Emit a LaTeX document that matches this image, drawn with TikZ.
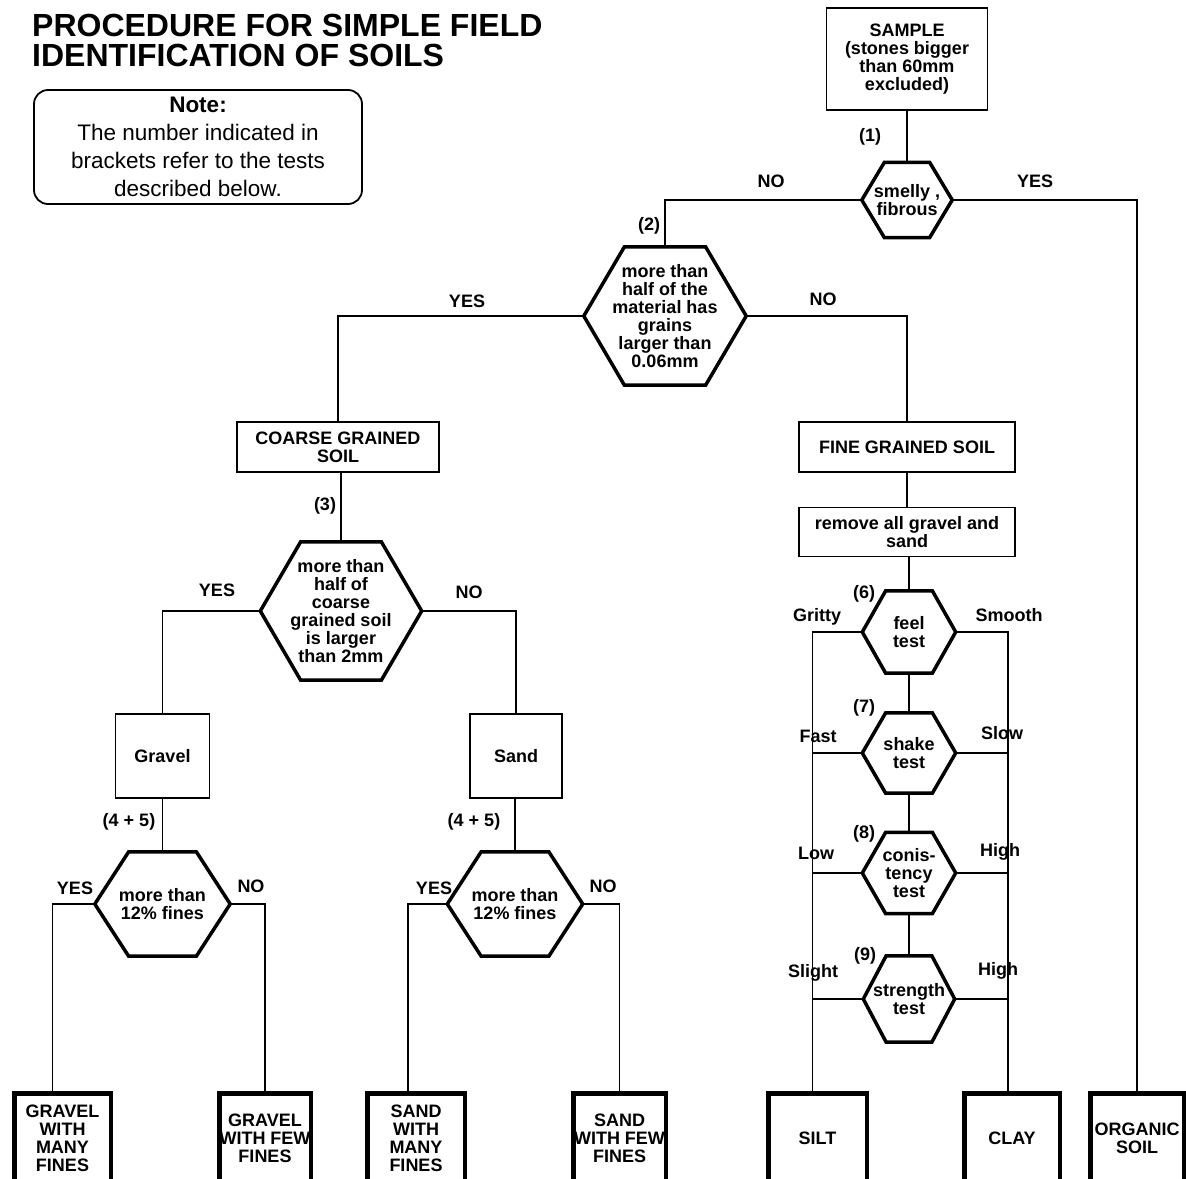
\documentclass[tikz,border=0pt]{standalone}
\usepackage{fontspec}
\setmainfont{Liberation Sans}
\usetikzlibrary{calc, positioning}
\newcommand{\boxfont}{\fontsize{18}{18}\selectfont\bfseries}
\tikzset{box/.style={draw, line width=1.8pt, align=center, inner sep=0pt, font=\boxfont},
         endbox/.style={box, line width=4.5pt, minimum height=90pt},
         test/.style={align=center, inner sep=0pt, font=\boxfont},
         lbl/.style={inner sep=0pt, font=\boxfont},
         link/.style={line width=1.8pt},
         hexline/.style={line width=3.5pt, line join=miter}}

\begin{document}
\begin{tikzpicture}[x=1pt, y=-1pt]
\useasboundingbox (0,0) rectangle (1186,1178);
% heading and note
\node[anchor=north west, align=left, inner sep=0pt,
      font=\fontsize{32}{30}\selectfont\bfseries] (title) at (32,14)
      {PROCEDURE FOR SIMPLE FIELD\\IDENTIFICATION OF SOILS};
\node[draw, rounded corners=14pt, line width=1.8pt, minimum width=328pt,
      minimum height=114pt, align=center, inner sep=0pt,
      font=\fontsize{22.5}{28}\selectfont] (note) at (198,147)
      {\textbf{Note:}\\The number indicated in\\brackets refer to the tests\\described below.};

% boxes
\node[box, minimum width=161pt, minimum height=102pt] (sample) at (907,59)
      {SAMPLE\\(stones bigger\\than 60mm\\excluded)};
\node[box, minimum width=202pt, minimum height=50pt] (coarse) at (338,447)
      {COARSE GRAINED\\SOIL};
\node[box, minimum width=216pt, minimum height=50pt] (fine) at (907,447)
      {FINE GRAINED SOIL};
\node[box, minimum width=216pt, minimum height=49pt] (remove) at (907,532)
      {remove all gravel and\\sand};
\node[box, minimum width=94pt, minimum height=84pt] (gravel) at (162.5,756) {Gravel};
\node[box, minimum width=92pt, minimum height=84pt] (sand) at (516,756) {Sand};

% tests
\node[test, minimum width=90pt, minimum height=75pt] (smelly) at (907,200)
      {smelly ,\\fibrous};
\node[test, minimum width=162pt, minimum height=138pt] (grains) at (665,316)
      {more than\\half of the\\material has\\grains\\larger than\\0.06mm};
\node[test, minimum width=161pt, minimum height=138pt] (half) at (341,611)
      {more than\\half of\\coarse\\grained soil\\is larger\\than 2mm};
\node[test, minimum width=135pt, minimum height=104pt] (gfines) at (162.5,904)
      {more than\\12\% fines};
\node[test, minimum width=135pt, minimum height=104pt] (sfines) at (515,904)
      {more than\\12\% fines};
\node[test, minimum width=93pt, minimum height=82pt] (feel) at (909,632)
      {feel\\test};
\node[test, minimum width=93pt, minimum height=80pt] (shake) at (909,753)
      {shake\\test};
\node[test, minimum width=93pt, minimum height=81pt] (consist) at (909,873)
      {conis-\\tency\\test};
\node[test, minimum width=91pt, minimum height=86pt] (strength) at (909,999)
      {strength\\test};
\foreach \h in {smelly, grains, half, gfines, sfines, feel, shake, consist, strength}
  \draw[hexline] (\h.west) -- ($(\h.north west)!.25!(\h.north east)$)
     -- ($(\h.north west)!.75!(\h.north east)$) -- (\h.east)
     -- ($(\h.south west)!.75!(\h.south east)$)
     -- ($(\h.south west)!.25!(\h.south east)$) -- cycle;

% results (they run off the bottom edge)
\node[endbox, minimum width=96.5pt] (gmany) at (62.5,1138.5) {GRAVEL\\WITH\\MANY\\FINES};
\node[endbox, minimum width=91.5pt] (gfew) at (265,1138.5) {GRAVEL\\WITH FEW\\FINES};
\node[endbox, minimum width=97.5pt] (smany) at (416,1138.5) {SAND\\WITH\\MANY\\FINES};
\node[endbox, minimum width=92.5pt] (sfew) at (619.5,1138.5) {SAND\\WITH FEW\\FINES};
\node[endbox, minimum width=98.5pt] (silt) at (817.5,1138.5) {SILT};
\node[endbox, minimum width=95.5pt] (clay) at (1012,1138.5) {CLAY};
\node[endbox, minimum width=93.5pt] (organic) at (1137,1138.5) {ORGANIC\\SOIL};
\coordinate (gmanyin) at ([xshift=-10pt]gmany.north);
\coordinate (smanyin) at ([xshift=-8pt]smany.north);
\coordinate (siltin) at ([xshift=-5pt]silt.north);
\coordinate (clayin) at ([xshift=-4pt]clay.north);

% connectors
\draw[link] (sample.south) -- (smelly.north);
\draw[link] (smelly.west) -| (grains.north);
\draw[link] (smelly.east) -| (organic.north);
\draw[link] (grains.west) -| (coarse.north);
\draw[link] (grains.east) -| (fine.north);
\draw[link] (half.north |- coarse.south) -- (half.north);
\draw[link] (half.west) -| (gravel.north);
\draw[link] (half.east) -| (sand.north);
\draw[link] (gravel.south) -- (gfines.north);
\draw[link] (sand.south -| sfines.north) -- (sfines.north);
\draw[link] (gfines.west) -| (gmanyin);
\draw[link] (gfines.east) -| (gfew.north);
\draw[link] (sfines.west) -| (smanyin);
\draw[link] (sfines.east) -| (sfew.north);
\draw[link] (fine.south) -- (remove.north);
\draw[link] (feel.north |- remove.south) -- (feel.north);
\draw[link] (feel.south) -- (shake.north);
\draw[link] (shake.south) -- (consist.north);
\draw[link] (consist.south) -- (strength.north);
\draw[link] (feel.west) -| (siltin);
\draw[link] (feel.east) -| (clayin);
\foreach \t in {shake, consist, strength} {
  \draw[link] (\t.west) -- (\t.west -| siltin);
  \draw[link] (\t.east) -- (\t.east -| clayin);
}

% labels
\node[lbl] (t1) at (870,137) {(1)};
\node[lbl] (no1) at (771,181) {NO};
\node[lbl] (yes1) at (1035,181) {YES};
\node[lbl] (t2) at (649,226) {(2)};
\node[lbl] (yes2) at (467,301) {YES};
\node[lbl] (no2) at (823,299) {NO};
\node[lbl] (t3) at (325,506) {(3)};
\node[lbl] (yes3) at (217,590) {YES};
\node[lbl] (no3) at (469,592) {NO};
\node[lbl] (t45a) at (129,822) {(4 + 5)};
\node[lbl] (t45b) at (474,822) {(4 + 5)};
\node[lbl] (yes4) at (75,888) {YES};
\node[lbl] (no4) at (251,886) {NO};
\node[lbl] (yes5) at (434,888) {YES};
\node[lbl] (no5) at (603,886) {NO};
\node[lbl] (t6) at (864,594) {(6)};
\node[lbl] (t7) at (864,708) {(7)};
\node[lbl] (t8) at (864,834) {(8)};
\node[lbl] (t9) at (865,956) {(9)};
\node[lbl] (gritty) at (817,617) {Gritty};
\node[lbl] (smooth) at (1009,615) {Smooth};
\node[lbl] (fast) at (818,736) {Fast};
\node[lbl] (slow) at (1002,733) {Slow};
\node[lbl] (low) at (816,853) {Low};
\node[lbl] (high1) at (1000,852) {High};
\node[lbl] (slight) at (813,973) {Slight};
\node[lbl] (high2) at (998,971) {High};
\end{tikzpicture}
\end{document}
